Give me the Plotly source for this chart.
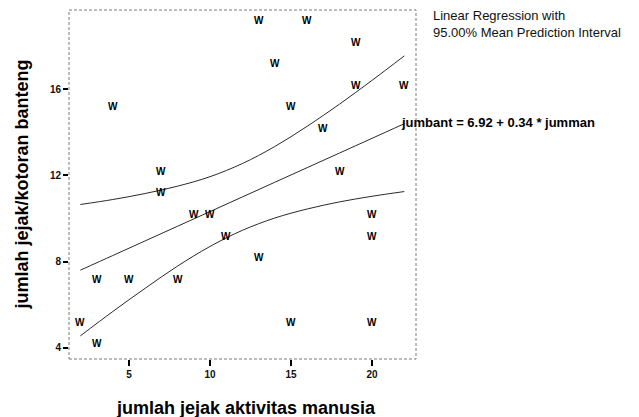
import plotly.graph_objects as go

# Data
jumman = [2, 3, 3, 4, 5, 7, 7, 8, 9, 10, 11, 13, 13, 14, 15, 15, 16, 17, 18, 19, 19, 20, 20, 20, 22]
jumbant = [5, 4, 7, 15, 7, 12, 11, 7, 10, 10, 9, 8, 19, 17, 15, 5, 19, 14, 12, 18, 16, 10, 9, 5, 16]

intercept = 6.92
slope = 0.34

band_x = [2, 4, 6, 8, 10, 12, 14, 16, 18, 20, 22]
band_upper = [10.65, 10.88, 11.16, 11.50, 11.94, 12.55, 13.34, 14.28, 15.31, 16.41, 17.55]
band_lower = [4.55, 5.68, 6.76, 7.79, 8.70, 9.45, 10.02, 10.44, 10.77, 11.03, 11.25]

x_ticks = [5, 10, 15, 20]
y_ticks = [4, 8, 12, 16]

x_title = "jumlah jejak aktivitas manusia"
y_title = "jumlah jejak/kotoran banteng"
legend_lines = ["Linear Regression with", "95.00% Mean Prediction Interval"]
equation = "jumbant = %.2f + %.2f * jumman" % (intercept, slope)

FONT = "Liberation Sans, Arial, sans-serif"
LINE_COLOR = "#2a2a2a"

fit_y = [intercept + slope * x for x in band_x]

fig = go.Figure()
for ys in (band_upper, fit_y, band_lower):
    fig.add_trace(go.Scatter(
        x=band_x, y=ys, mode="lines", line=dict(color=LINE_COLOR, width=1, shape="spline"),
        hoverinfo="skip", showlegend=False))

# invisible points (for hover) ; visible marks are the W annotations
fig.add_trace(go.Scatter(x=jumman, y=jumbant, mode="markers",
                         marker=dict(size=1, color="rgba(0,0,0,0)"), showlegend=False))

annotations = []
for xv, yv in zip(jumman, jumbant):
    annotations.append(dict(
        x=xv, y=yv, xref="x", yref="y", text="W", showarrow=False,
        xanchor="center", yanchor="middle", yshift=4,
        font=dict(family=FONT, size=10, color="#000", weight="bold")))

# equation label at the end of the regression line
annotations.append(dict(
    x=band_x[-1], y=intercept + slope * band_x[-1], xref="x", yref="y",
    text=equation, showarrow=False, xanchor="left", yanchor="middle", xshift=-5, yshift=1,
    font=dict(family=FONT, size=13, color="#000", weight="bold")))

# legend text
for i, t in enumerate(legend_lines):
    annotations.append(dict(
        x=1, y=1, xref="x domain", yref="y domain", text=t, showarrow=False,
        xanchor="left", yanchor="middle", xshift=15, yshift=-5 - 17 * i,
        font=dict(family=FONT, size=13, color="#111")))

# axis titles
annotations.append(dict(
    x=0.5, y=0, xref="x domain", yref="y domain", text=x_title, showarrow=False,
    xanchor="center", yanchor="middle", xshift=3, yshift=-49,
    font=dict(family=FONT, size=18, color="#000", weight="bold")))
annotations.append(dict(
    x=0, y=0.5, xref="x domain", yref="y domain", text=y_title, showarrow=False,
    textangle=-90, xanchor="center", yanchor="middle", xshift=-48, yshift=0,
    font=dict(family=FONT, size=18, color="#000", weight="bold")))

fig.update_layout(
    width=639, height=417,
    margin=dict(l=69, r=223, t=10, b=58),
    paper_bgcolor="white", plot_bgcolor="white",
    showlegend=False,
    annotations=annotations,
    shapes=[dict(type="rect", xref="x domain", yref="y domain", x0=0, y0=0, x1=1, y1=1,
                 line=dict(color="#7a7a7a", width=1, dash="3px,2px"))],
    font=dict(family=FONT),
)
fig.update_xaxes(range=[1.296, 22.72], tickvals=x_ticks, ticks="outside", ticklen=6,
                 tickwidth=2, tickcolor="#000", showgrid=False, zeroline=False,
                 showline=False, tickfont=dict(family=FONT, size=10, color="#111", weight="bold"))
fig.update_yaxes(range=[3.475, 19.68], tickvals=y_ticks, ticks="outside", ticklen=5,
                 tickwidth=2, tickcolor="#000", showgrid=False, zeroline=False,
                 showline=False, tickfont=dict(family=FONT, size=10, color="#111", weight="bold"))

fig.write_html("out.html", config={"displayModeBar": False},
               post_script="document.body.style.margin='0px';document.body.style.overflow='hidden';")
